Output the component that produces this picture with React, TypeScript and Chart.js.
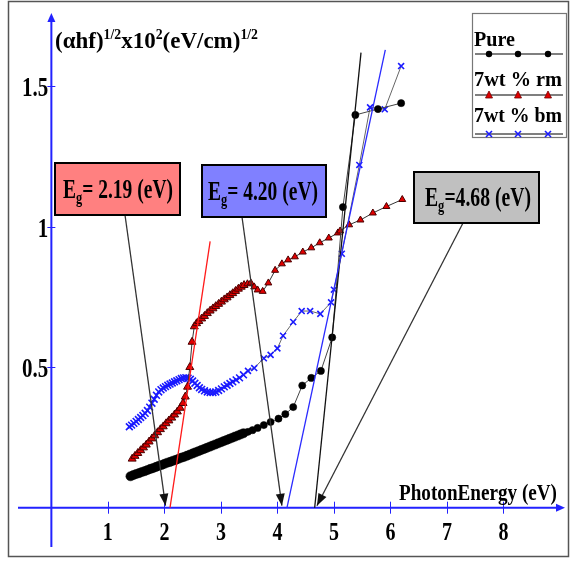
import React, { useEffect, useRef } from "react";
import { Chart, registerables } from "chart.js";
Chart.register(...registerables);

// ---------------- DATA ----------------
const pureX = [1.40, 1.45, 1.50, 1.55, 1.60, 1.65, 1.70, 1.75, 1.80, 1.85, 1.90, 1.95, 2.00, 2.05, 2.10, 2.15, 2.20, 2.25, 2.30, 2.35, 2.40, 2.45, 2.50, 2.55, 2.60, 2.65, 2.70, 2.75, 2.80, 2.85, 2.90, 2.95, 3.00, 3.05, 3.10, 3.15, 3.20, 3.25, 3.30, 3.35, 3.40, 3.48, 3.56, 3.65, 3.76, 3.88, 4.02, 4.14, 4.28, 4.44, 4.60, 4.77, 4.97, 5.16, 5.38, 5.78, 6.19];
const pureY = [0.112, 0.116, 0.120, 0.123, 0.127, 0.130, 0.134, 0.138, 0.141, 0.145, 0.149, 0.152, 0.156, 0.160, 0.163, 0.167, 0.170, 0.174, 0.178, 0.181, 0.185, 0.189, 0.193, 0.197, 0.201, 0.205, 0.209, 0.213, 0.217, 0.221, 0.225, 0.229, 0.233, 0.237, 0.241, 0.245, 0.249, 0.253, 0.257, 0.261, 0.265, 0.270, 0.276, 0.284, 0.294, 0.305, 0.317, 0.333, 0.358, 0.435, 0.462, 0.487, 0.606, 1.07, 1.398, 1.419, 1.44];

const rmX = [1.43, 1.48, 1.53, 1.58, 1.63, 1.68, 1.73, 1.78, 1.83, 1.88, 1.93, 1.98, 2.03, 2.08, 2.13, 2.18, 2.23, 2.28, 2.33, 2.37, 2.41, 2.45, 2.49, 2.53, 2.57, 2.61, 2.66, 2.71, 2.76, 2.81, 2.86, 2.91, 2.96, 3.01, 3.06, 3.11, 3.16, 3.21, 3.26, 3.31, 3.36, 3.41, 3.47, 3.53, 3.59, 3.65, 3.74, 3.84, 3.96, 4.08, 4.19, 4.31, 4.45, 4.60, 4.75, 4.91, 5.07, 5.11, 5.27, 5.47, 5.69, 5.93, 6.21];
const rmY = [0.174, 0.184, 0.194, 0.204, 0.214, 0.224, 0.235, 0.246, 0.257, 0.268, 0.279, 0.289, 0.300, 0.310, 0.320, 0.331, 0.342, 0.355, 0.372, 0.395, 0.430, 0.500, 0.590, 0.645, 0.656, 0.664, 0.673, 0.682, 0.692, 0.701, 0.709, 0.717, 0.725, 0.733, 0.741, 0.748, 0.756, 0.763, 0.771, 0.779, 0.786, 0.792, 0.797, 0.800, 0.786, 0.775, 0.770, 0.800, 0.845, 0.868, 0.882, 0.893, 0.910, 0.925, 0.943, 0.960, 0.978, 0.985, 1.007, 1.024, 1.049, 1.072, 1.097];

const bmX = [1.38, 1.42, 1.46, 1.50, 1.54, 1.58, 1.62, 1.66, 1.70, 1.74, 1.78, 1.82, 1.86, 1.90, 1.94, 1.98, 2.02, 2.06, 2.10, 2.14, 2.18, 2.22, 2.26, 2.30, 2.34, 2.38, 2.42, 2.46, 2.50, 2.54, 2.58, 2.62, 2.66, 2.71, 2.76, 2.81, 2.86, 2.91, 2.96, 3.01, 3.06, 3.11, 3.16, 3.21, 3.27, 3.33, 3.40, 3.48, 3.59, 3.76, 3.88, 4.00, 4.10, 4.28, 4.43, 4.58, 4.76, 4.95, 5.00, 5.14, 5.45, 5.64, 5.90, 6.19];
const bmY = [0.288, 0.294, 0.300, 0.307, 0.314, 0.321, 0.328, 0.336, 0.346, 0.358, 0.372, 0.386, 0.400, 0.412, 0.420, 0.426, 0.431, 0.436, 0.440, 0.444, 0.448, 0.452, 0.456, 0.460, 0.462, 0.463, 0.461, 0.457, 0.451, 0.443, 0.435, 0.427, 0.421, 0.416, 0.412, 0.410, 0.410, 0.412, 0.417, 0.423, 0.430, 0.436, 0.442, 0.448, 0.455, 0.462, 0.473, 0.487, 0.497, 0.532, 0.544, 0.567, 0.612, 0.661, 0.700, 0.700, 0.690, 0.731, 0.776, 0.904, 1.22, 1.425, 1.418, 1.572];

const seriesLabels = ["Pure", "7wt % rm", "7wt % bm"];

// Tauc fit lines (x-intercept to top)
const fitRedX = [2.10, 2.81];
const fitRedY = [0, 0.948];
const fitBlueX = [4.17, 5.91];
const fitBlueY = [0, 1.63];
const fitBlackX = [4.66, 5.48];
const fitBlackY = [0, 1.62];

// Band-gap annotations
const gapValues = ["2.19", "4.20", "4.68"];
const gapArrowX = [2.02, 4.08, 4.70];

// Axis ticks
const xTicks = [1, 2, 3, 4, 5, 6, 7, 8];
const xTickLabels = ["1", "2", "3", "4", "5", "6", "7", "8"];
const yTicks = [0.5, 1, 1.5];
const yTickLabels = ["0.5", "1", "1.5"];

// ---------------- LAYOUT / STYLE ----------------
const W = 571;
const H = 561;
const FONT = '"Liberation Serif", "Times New Roman", serif';
const AXIS_BLUE = "#2222ff";
const DENSE_END = 3.45;
const boxLayout = [
  { left: 55, top: 163, right: 180, bottom: 215, fill: "#ff8080", anchorX: 125, textX: 63, textW: 110, base: 198, eq: "= " },
  { left: 202, top: 165, right: 326, bottom: 217, fill: "#8080ff", anchorX: 242, textX: 208, textW: 110, base: 200, eq: "= " },
  { left: 414, top: 172, right: 539, bottom: 223, fill: "#c0c0c0", anchorX: 463, textX: 425, textW: 106, base: 206, eq: "=" },
];

type Part = { t: string; mode?: "sup" | "sub" };

function drawRich(ctx: CanvasRenderingContext2D, parts: Part[], x: number, baseline: number, size: number, targetW: number, sy: number) {
  const small = Math.round(size * 0.62);
  const fMain = `bold ${size}px ${FONT}`;
  const fSmall = `bold ${small}px ${FONT}`;
  let w = 0;
  for (const p of parts) {
    ctx.font = p.mode ? fSmall : fMain;
    w += ctx.measureText(p.t).width;
  }
  const sx = targetW > 0 ? targetW / w : 1;
  ctx.save();
  ctx.translate(x, baseline);
  ctx.scale(sx, sy);
  ctx.textAlign = "left";
  ctx.textBaseline = "alphabetic";
  let cx = 0;
  for (const p of parts) {
    ctx.font = p.mode ? fSmall : fMain;
    const dy = p.mode === "sup" ? -size * 0.4 : p.mode === "sub" ? size * 0.2 : 0;
    ctx.fillText(p.t, cx, dy);
    cx += ctx.measureText(p.t).width;
  }
  ctx.restore();
}

function drawCentered(ctx: CanvasRenderingContext2D, text: string, x: number, baseline: number, size: number, sy: number, align: CanvasTextAlign) {
  ctx.save();
  ctx.translate(x, baseline);
  ctx.scale(1, sy);
  ctx.font = `bold ${size}px ${FONT}`;
  ctx.textAlign = align;
  ctx.textBaseline = "alphabetic";
  ctx.fillText(text, 0, 0);
  ctx.restore();
}

function arrowHead(ctx: CanvasRenderingContext2D, fx: number, fy: number, tx: number, ty: number, len: number, half: number) {
  const a = Math.atan2(ty - fy, tx - fx);
  ctx.beginPath();
  ctx.moveTo(tx, ty);
  ctx.lineTo(tx - len * Math.cos(a) + half * Math.sin(a), ty - len * Math.sin(a) - half * Math.cos(a));
  ctx.lineTo(tx - len * Math.cos(a) - half * Math.sin(a), ty - len * Math.sin(a) + half * Math.cos(a));
  ctx.closePath();
  ctx.fill();
}

function drawMarker(ctx: CanvasRenderingContext2D, kind: number, x: number, y: number) {
  ctx.save();
  if (kind === 0) {
    ctx.fillStyle = "#000";
    ctx.beginPath();
    ctx.arc(x, y, 3.2, 0, Math.PI * 2);
    ctx.fill();
  } else if (kind === 1) {
    ctx.fillStyle = "#e00000";
    ctx.strokeStyle = "#700000";
    ctx.lineWidth = 0.8;
    ctx.beginPath();
    ctx.moveTo(x, y - 4);
    ctx.lineTo(x + 3.5, y + 3);
    ctx.lineTo(x - 3.5, y + 3);
    ctx.closePath();
    ctx.fill();
    ctx.stroke();
  } else {
    ctx.strokeStyle = "#1a1aff";
    ctx.lineWidth = 1.6;
    ctx.beginPath();
    ctx.moveTo(x - 3, y - 3);
    ctx.lineTo(x + 3, y + 3);
    ctx.moveTo(x + 3, y - 3);
    ctx.lineTo(x - 3, y + 3);
    ctx.stroke();
  }
  ctx.restore();
}

const axesPlugin = {
  id: "customAxes",
  beforeDatasetsDraw(chart: any) {
    const { ctx, scales } = chart;
    const xs = scales.x;
    const ys = scales.y;
    const x0 = xs.getPixelForValue(0);
    const y0 = ys.getPixelForValue(0);
    ctx.save();
    ctx.strokeStyle = "#555";
    ctx.lineWidth = 1.5;
    ctx.strokeRect(8.5, 1.5, 560, 555);
    ctx.strokeStyle = AXIS_BLUE;
    ctx.fillStyle = AXIS_BLUE;
    ctx.lineWidth = 2;
    ctx.beginPath();
    ctx.moveTo(18, y0);
    ctx.lineTo(558, y0);
    ctx.moveTo(x0, 547);
    ctx.lineTo(x0, 21);
    ctx.stroke();
    arrowHead(ctx, 540, y0, 565, y0, 9, 4);
    arrowHead(ctx, x0, 40, x0, 13, 9, 4);
    ctx.lineWidth = 1;
    ctx.beginPath();
    for (const t of xTicks) {
      const px = Math.round(xs.getPixelForValue(t)) + 0.5;
      ctx.moveTo(px, y0 - 6);
      ctx.lineTo(px, y0 + 6);
    }
    for (const t of yTicks) {
      const py = Math.round(ys.getPixelForValue(t)) + 0.5;
      ctx.moveTo(x0 - 4, py);
      ctx.lineTo(x0 + 4, py);
    }
    ctx.stroke();
    ctx.fillStyle = "#000";
    xTicks.forEach((t, i) => {
      drawCentered(ctx, xTickLabels[i], xs.getPixelForValue(t), y0 + 32, 20, 1.25, "center");
    });
    yTicks.forEach((t, i) => {
      drawCentered(ctx, yTickLabels[i], x0 - 3, ys.getPixelForValue(t) + 10, 21, 1.25, "right");
    });
    drawRich(ctx, [{ t: "(αhf)" }, { t: "1/2", mode: "sup" }, { t: "x10" }, { t: "2", mode: "sup" }, { t: "(eV/cm)" }, { t: "1/2", mode: "sup" }], 55, 48, 20, 203, 1.15);
    drawRich(ctx, [{ t: "PhotonEnergy (eV)" }], 399, 500, 20, 158, 1.2);
    ctx.restore();
  },
  afterDatasetsDraw(chart: any) {
    const { ctx, scales } = chart;
    const xs = scales.x;
    const ys = scales.y;
    const y0 = ys.getPixelForValue(0);
    ctx.save();
    boxLayout.forEach((b, i) => {
      const tx = xs.getPixelForValue(gapArrowX[i]);
      const ty = y0 - 2;
      ctx.strokeStyle = "#333";
      ctx.fillStyle = "#111";
      ctx.lineWidth = 1.3;
      ctx.beginPath();
      ctx.moveTo(b.anchorX, b.bottom);
      ctx.lineTo(tx, ty);
      ctx.stroke();
      arrowHead(ctx, b.anchorX, b.bottom, tx, ty, 12, 4.5);
      ctx.fillStyle = b.fill;
      ctx.fillRect(b.left, b.top, b.right - b.left, b.bottom - b.top);
      ctx.strokeStyle = "#000";
      ctx.lineWidth = 2;
      ctx.strokeRect(b.left, b.top, b.right - b.left, b.bottom - b.top);
      ctx.fillStyle = "#000";
      drawRich(ctx, [{ t: "E" }, { t: "g", mode: "sub" }, { t: b.eq + gapValues[i] + " (eV)" }], b.textX, b.base, 22, b.textW, 1.2);
    });
    ctx.restore();
  },
  afterDraw(chart: any) {
    const { ctx } = chart;
    ctx.save();
    ctx.fillStyle = "#fff";
    ctx.fillRect(472, 13, 94, 124);
    ctx.strokeStyle = "#777";
    ctx.lineWidth = 1.2;
    ctx.strokeRect(472.5, 13.5, 94, 124);
    const textBase = [46, 86, 122];
    const lineY = [54, 95, 134];
    const textW = [41, 88, 88];
    ctx.fillStyle = "#000";
    seriesLabels.forEach((lab, i) => {
      drawRich(ctx, [{ t: lab }], 474, textBase[i], 19, textW[i], 1.1);
      ctx.strokeStyle = "#000";
      ctx.lineWidth = 1.2;
      ctx.beginPath();
      ctx.moveTo(475, lineY[i]);
      ctx.lineTo(563, lineY[i]);
      ctx.stroke();
      [489, 518, 548].forEach((mx) => drawMarker(ctx, i, mx, lineY[i]));
    });
    ctx.restore();
  },
};

const xMin = -46 / 57.8;
const xMax = (W - 46) / 57.8;
const yMax = 513 / 287.5;
const yMin = (513 - H) / 287.5;

function pts(xs: number[], ys: number[]) {
  return xs.map((x, i) => ({ x, y: ys[i] }));
}

const sizeBy = (dense: number, sparse: number) => (c: any) => (c.raw && c.raw.x < DENSE_END ? dense : sparse);

export default function App() {
  const ref = useRef<HTMLCanvasElement | null>(null);
  useEffect(() => {
    if (!ref.current) return;
    const chart = new Chart(ref.current, {
      type: "scatter",
      data: {
        datasets: [
          {
            label: "fit rm",
            data: pts(fitRedX, fitRedY),
            showLine: true,
            borderColor: "#ff1a1a",
            borderWidth: 1.3,
            pointRadius: 0,
          },
          {
            label: "fit bm",
            data: pts(fitBlueX, fitBlueY),
            showLine: true,
            borderColor: "#2a2aff",
            borderWidth: 1.3,
            pointRadius: 0,
          },
          {
            label: "fit pure",
            data: pts(fitBlackX, fitBlackY),
            showLine: true,
            borderColor: "#111",
            borderWidth: 1.3,
            pointRadius: 0,
          },
          {
            label: seriesLabels[0],
            data: pts(pureX, pureY),
            showLine: true,
            borderColor: "#444",
            borderWidth: 1,
            pointStyle: "circle",
            pointRadius: sizeBy(4.6, 3.6),
            pointBackgroundColor: "#000",
            pointBorderColor: "#000",
            pointBorderWidth: 0.5,
          },
          {
            label: seriesLabels[1],
            data: pts(rmX, rmY),
            showLine: true,
            borderColor: "#333",
            borderWidth: 1,
            pointStyle: "triangle",
            pointRadius: sizeBy(4.6, 4.0),
            pointBackgroundColor: "#e00000",
            pointBorderColor: "#4a0000",
            pointBorderWidth: 1,
          },
          {
            label: seriesLabels[2],
            data: pts(bmX, bmY),
            showLine: true,
            borderColor: "#666",
            borderWidth: 1,
            pointStyle: "crossRot",
            pointRadius: sizeBy(4.8, 4.2),
            pointBackgroundColor: "#1a1aff",
            pointBorderColor: "#1a1aff",
            pointBorderWidth: 1.6,
          },
        ],
      },
      options: {
        animation: false,
        responsive: false,
        maintainAspectRatio: false,
        devicePixelRatio: 1,
        layout: { padding: 0 },
        plugins: { legend: { display: false }, tooltip: { enabled: false } },
        elements: { line: { tension: 0 } },
        scales: {
          x: { type: "linear", min: xMin, max: xMax, display: false },
          y: { type: "linear", min: yMin, max: yMax, display: false },
        },
      },
      plugins: [axesPlugin],
    });
    return () => chart.destroy();
  }, []);
  return (
    <div style={{ position: "fixed", left: 0, top: 0, width: W, height: H, background: "#fff" }}>
      <canvas ref={ref} width={W} height={H} style={{ width: W, height: H, display: "block" }} />
    </div>
  );
}
